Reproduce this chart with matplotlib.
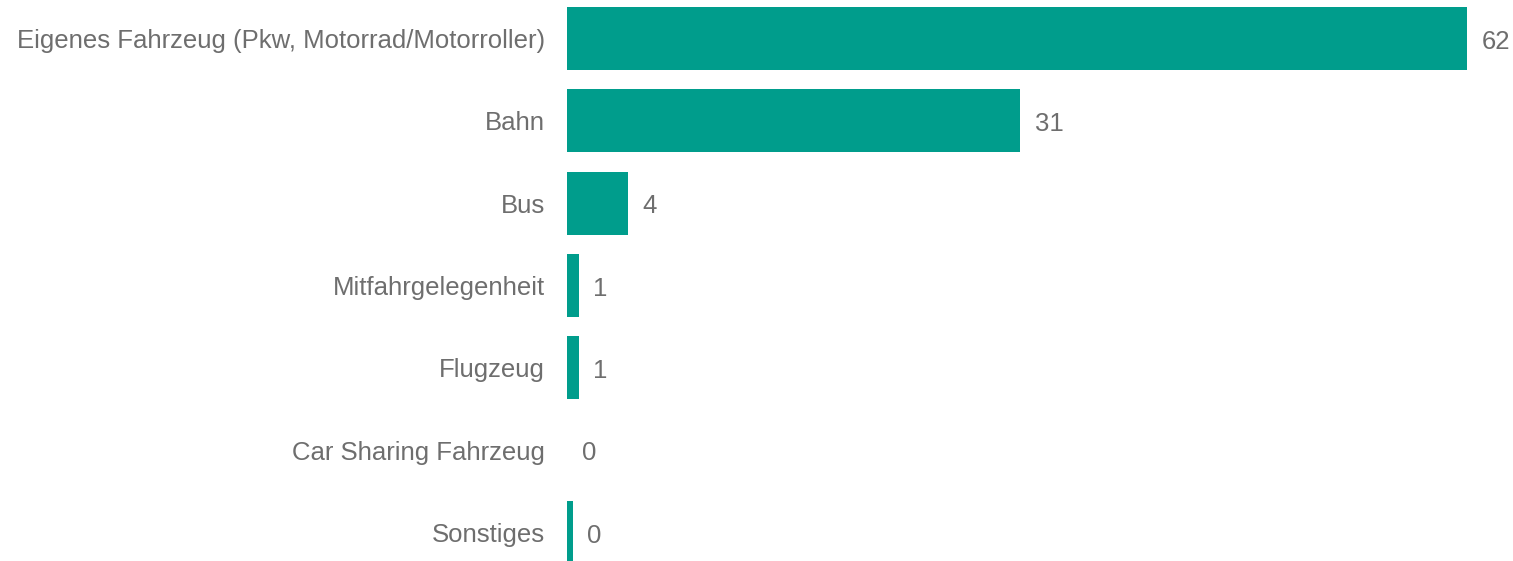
import matplotlib
matplotlib.use("Agg")
import matplotlib.pyplot as plt

categories = ["Eigenes Fahrzeug (Pkw, Motorrad/Motorroller)", "Bahn", "Bus",
              "Mitfahrgelegenheit", "Flugzeug", "Car Sharing Fahrzeug", "Sonstiges"]
values = [62.0, 31.2, 4.2, 0.8, 0.8, 0.0, 0.4]
labels = ["62", "31", "4", "1", "1", "0", "0"]

bar_color = "#009D8C"
text_color = "#6E6E6E"

plt.rcParams["font.family"] = ["Liberation Sans", "DejaVu Sans"]

fig = plt.figure(figsize=(15.13, 5.61), dpi=100)
ax = fig.add_axes([567 / 1513, 0, 946 / 1513, 1])

pos = list(range(len(categories)))
ax.barh(pos, values, height=0.765, color=bar_color)
ax.set_xlim(0, 65.15)
ax.set_ylim(6.346, -0.468)

# value labels right of each bar
for p, v, lab in zip(pos, values, labels):
    ax.annotate(lab, (v, p), xytext=(10.5, -2.2), textcoords="offset points",
                ha="left", va="center", fontsize=18.5, color=text_color)

ax.set_yticks(pos)
ax.set_yticklabels(categories, fontsize=18.5, color=text_color)
ax.tick_params(axis="y", length=0, pad=16)
ax.set_xticks([])
for s in ax.spines.values():
    s.set_visible(False)

fig.savefig("out.png", dpi=100)
